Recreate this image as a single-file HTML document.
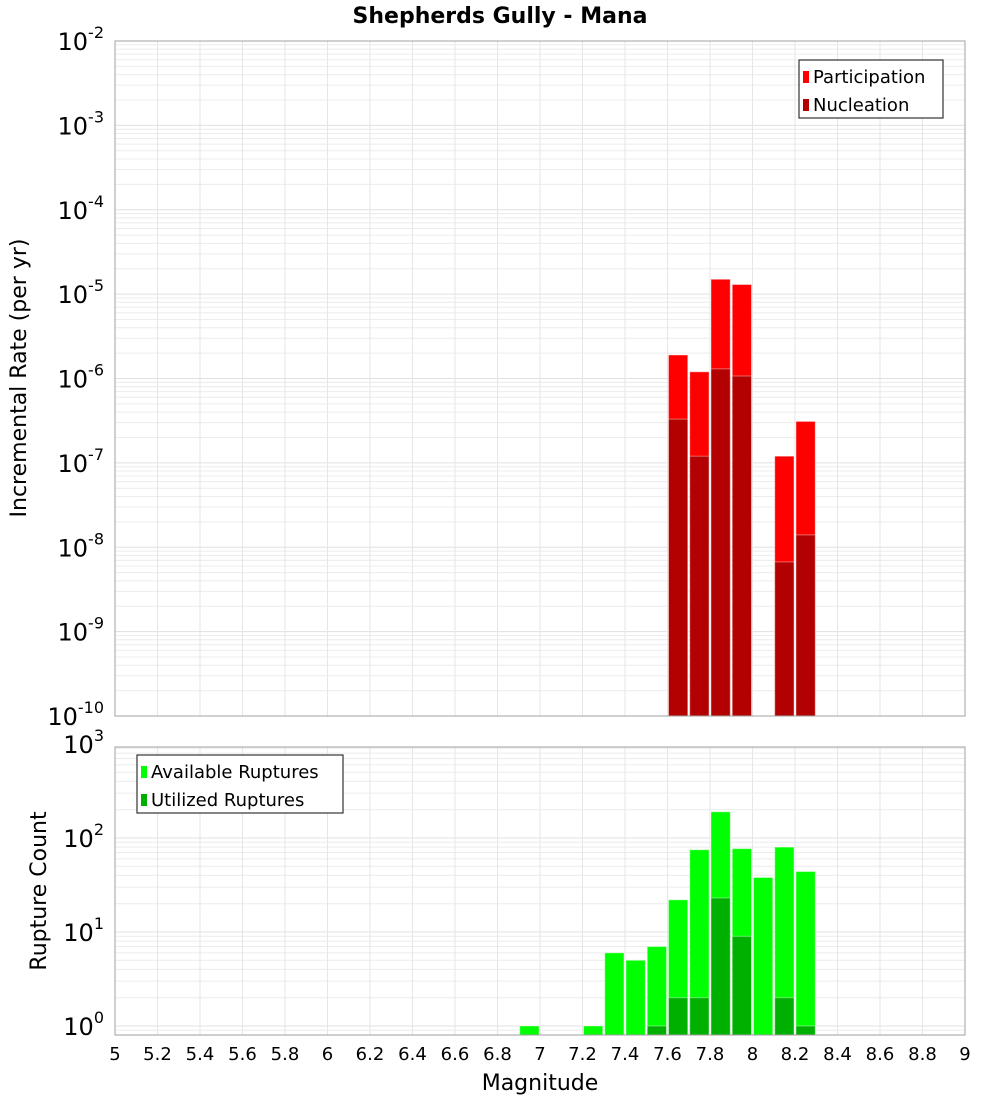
<!DOCTYPE html>
<html><head><meta charset="utf-8"><style>
body{margin:0;background:#fff;font-family:"DejaVu Sans","Liberation Sans",sans-serif}
svg text{font-family:"DejaVu Sans","Liberation Sans",sans-serif}
</style></head><body>
<svg id="c" width="1000" height="1100" xmlns="http://www.w3.org/2000/svg"></svg>
<script>
const bins=[7.65,7.75,7.85,7.95,8.15,8.25];
const participation=[1.9e-6,1.2e-6,1.5e-5,1.3e-5,1.2e-7,3.1e-7];
const nucleation=[3.3e-7,1.2e-7,1.3e-6,1.07e-6,6.7e-9,1.4e-8];
const cbins=[6.95,7.25,7.35,7.45,7.55,7.65,7.75,7.85,7.95,8.05,8.15,8.25];
const available=[1,1,6,5,7,22,75,190,77,38,80,44];
const utilized=[0,0,0,0,1,2,2,23,9,0,2,1];
const xTicks=[5,5.2,5.4,5.6,5.8,6,6.2,6.4,6.6,6.8,7,7.2,7.4,7.6,7.8,8,8.2,8.4,8.6,8.8,9];
const topExp=[-10,-9,-8,-7,-6,-5,-4,-3,-2];
const botExp=[0,1,2,3];
const NS="http://www.w3.org/2000/svg",svg=document.getElementById('c');
function el(t,a,p){const e=document.createElementNS(NS,t);for(const k in a)e.setAttribute(k,a[k]);(p||svg).appendChild(e);return e;}
const L=115,R=965;
const X=v=>L+(v-5)/4*(R-L);
const T0=41,T1=716,Yt=v=>T1-(Math.log10(v)+10)/8*(T1-T0);
const B0=747,B1=1035,Yb=v=>1026-Math.log10(v)*94;
const bw=(R-L)/40;
function grid(y0,y1,yf,lo,hi){
  const g=el('g',{});
  
  for(let e=lo;e<hi;e++)for(let m=1;m<10;m++){const y=yf(m*Math.pow(10,e));if(y<y0-0.5||y>y1+0.5)continue;
    el('line',{x1:L,x2:R,y1:y,y2:y,stroke:m==1?'#e0e0e0':'#ececec','stroke-width':1},g);}
  xTicks.forEach(t=>el('line',{x1:X(t),x2:X(t),y1:y0,y2:y1,stroke:'#e6e6e6'},g));
}
grid(T0,T1,Yt,-10,-2);grid(B0,B1,Yb,-1,3);
function bars(xs,vs,yf,base,col,name){
  xs.forEach((x,i)=>{if(!vs[i])return;const y=yf(vs[i]);
    const r=el('rect',{x:X(x)-bw/2+1,y:y,width:bw-2,height:base-y,fill:col,stroke:'#ffffff','stroke-opacity':0.4,'stroke-width':1});
    });
}
bars(bins,participation,Yt,T1,'#ff0000','participation-bar');
bars(bins,nucleation,Yt,T1,'#b30000','nucleation-bar');
bars(cbins,available,Yb,B1,'#00ff00','available-bar');
bars(cbins,utilized,Yb,B1,'#00b000','utilized-bar');
el('rect',{x:L,y:T0,width:R-L,height:T1-T0,fill:'none',stroke:'#a0a0a0'});
el('rect',{x:L,y:B0,width:R-L,height:B1-B0,fill:'none',stroke:'#a0a0a0'});
function ylab(e,y,name){const t=el('text',{x:104,y:y+9,'text-anchor':'end','font-size':24,fill:'#000'});
  
  t.textContent='10';const s=el('tspan',{dy:-12,'font-size':16},t);s.textContent=e;}
topExp.forEach(e=>ylab(e,Yt(Math.pow(10,e)),'y-tick-label'));
botExp.forEach(e=>ylab(e,Yb(Math.pow(10,e)),'y2-tick-label'));
xTicks.forEach(t=>{const tx=el('text',{x:X(t),y:1060,'text-anchor':'middle','font-size':18});tx.textContent=String(t);
  });
function txt(s,a,name){const t=el('text',a);t.textContent=s;return t;}
txt('Shepherds Gully - Mana',{x:500,y:23,'text-anchor':'middle','font-size':22,'font-weight':'bold'},'chart-title');
txt('Magnitude',{x:540,y:1090,'text-anchor':'middle','font-size':22},'x-axis-title');
txt('Incremental Rate (per yr)',{x:0,y:0,'text-anchor':'middle','font-size':22,transform:'translate(26,378) rotate(-90)'},'y-axis-title');
txt('Rupture Count',{x:0,y:0,'text-anchor':'middle','font-size':22,transform:'translate(46,891) rotate(-90)'},'y2-axis-title');
function legend(x,y,w,items,name){const g=el('g',{});
  el('rect',{x:x,y:y,width:w,height:58,fill:'#fff',stroke:'#333','stroke-width':1.2},g);
  items.forEach((it,i)=>{el('rect',{x:x+4,y:y+11+i*28,width:6,height:12,fill:it[1]},g);
    const t=el('text',{x:x+14,y:y+23+i*28,'font-size':18},g);t.textContent=it[0];});}
legend(799,60,144,[['Participation','#ff0000'],['Nucleation','#b30000']],'legend-top');
legend(137,755,206,[['Available Ruptures','#00ff00'],['Utilized Ruptures','#00b000']],'legend-bottom');
</script>
</body></html>
